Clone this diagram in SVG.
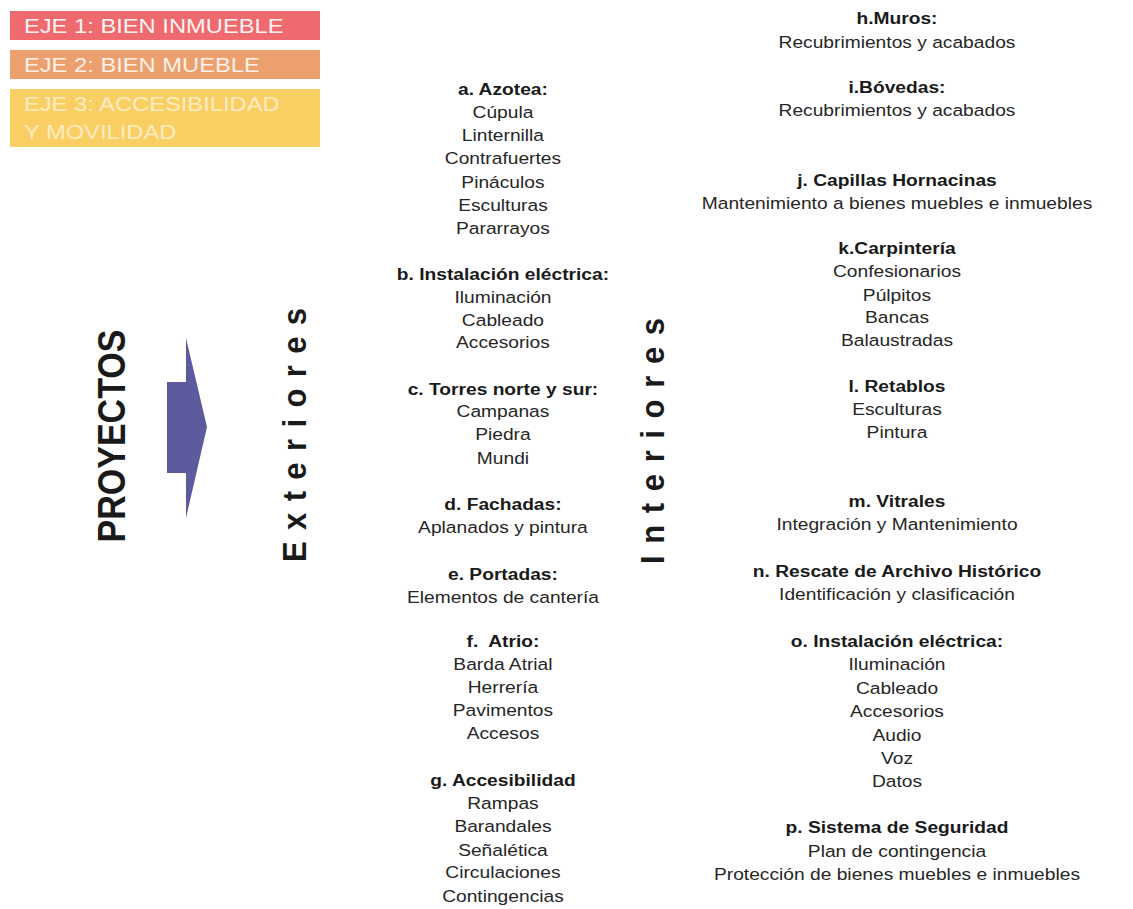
<svg xmlns="http://www.w3.org/2000/svg" width="1133" height="909" viewBox="0 0 1133 909">
<style>
text{font-family:"Liberation Sans",Arial,sans-serif;fill:#262626}
.it{font-size:17px;text-anchor:middle}
.hd{font-size:17px;text-anchor:middle;font-weight:bold;fill:#1a1a1a}
.eje{font-size:21px;fill:#ffffff}
.vt{font-weight:bold;fill:#1a1a1a;text-anchor:middle}
</style>
<rect width="1133" height="909" fill="#ffffff"/>
<g id="legend">
<rect x="10" y="11" width="310" height="29" fill="#ee6a6e"/>
<rect x="10" y="50" width="310" height="29" fill="#eba06e"/>
<rect x="10" y="89" width="310" height="58" fill="#f9cf64"/>
</g>
<g id="connectors">
<polygon points="167,382 186,382 186,338 207,427 186,518 186,473 167,473" fill="#5e5a9e"/>
</g>
<g id="proyectos"><text class="vt" font-size="34" transform="translate(125,436) rotate(-90) scale(1,1.15)">PROYECTOS</text></g>
<g id="exteriores-label"><text class="vt" font-size="31" textLength="254" lengthAdjust="spacing" transform="translate(306,435) rotate(-90) scale(1,1.1)">Exteriores</text></g>
<g id="interiores-label"><text class="vt" font-size="31" textLength="246" lengthAdjust="spacing" transform="translate(664,441) rotate(-90) scale(1,1.1)">Interiores</text></g>
<g transform="scale(1.13,1)">
<g id="ejes">
<text class="eje" x="21.2" y="33" opacity="0.92">EJE 1: BIEN INMUEBLE</text>
<text class="eje" x="21.2" y="72" opacity="0.85">EJE 2: BIEN MUEBLE</text>
<text class="eje" x="21.2" y="111.5" opacity="0.6">EJE 3: ACCESIBILIDAD</text>
<text class="eje" x="21.2" y="139" opacity="0.6">Y MOVILIDAD</text>
</g>
<g id="exteriores">
<g id="a-azotea">
<text class="hd" x="445.1" y="95">a. Azotea:</text>
<text class="it" x="445.1" y="118">Cúpula</text>
<text class="it" x="445.1" y="141">Linternilla</text>
<text class="it" x="445.1" y="164">Contrafuertes</text>
<text class="it" x="445.1" y="188">Pináculos</text>
<text class="it" x="445.1" y="211">Esculturas</text>
<text class="it" x="445.1" y="234">Pararrayos</text>
</g>
<g id="b-instalacion">
<text class="hd" x="445.1" y="280">b. Instalación eléctrica:</text>
<text class="it" x="445.1" y="303">Iluminación</text>
<text class="it" x="445.1" y="326">Cableado</text>
<text class="it" x="445.1" y="348">Accesorios</text>
</g>
<g id="c-torres">
<text class="hd" x="445.1" y="395">c. Torres norte y sur:</text>
<text class="it" x="445.1" y="417">Campanas</text>
<text class="it" x="445.1" y="440">Piedra</text>
<text class="it" x="445.1" y="464">Mundi</text>
</g>
<g id="d-fachadas">
<text class="hd" x="445.1" y="510">d. Fachadas:</text>
<text class="it" x="445.1" y="533">Aplanados y pintura</text>
</g>
<g id="e-portadas">
<text class="hd" x="445.1" y="580">e. Portadas:</text>
<text class="it" x="445.1" y="603">Elementos de cantería</text>
</g>
<g id="f-atrio">
<text class="hd" x="445.1" y="647" xml:space="preserve">f.  Atrio:</text>
<text class="it" x="445.1" y="670">Barda Atrial</text>
<text class="it" x="445.1" y="693">Herrería</text>
<text class="it" x="445.1" y="716">Pavimentos</text>
<text class="it" x="445.1" y="739">Accesos</text>
</g>
<g id="g-accesibilidad">
<text class="hd" x="445.1" y="786">g. Accesibilidad</text>
<text class="it" x="445.1" y="809">Rampas</text>
<text class="it" x="445.1" y="832">Barandales</text>
<text class="it" x="445.1" y="856">Señalética</text>
<text class="it" x="445.1" y="878">Circulaciones</text>
<text class="it" x="445.1" y="902">Contingencias</text>
</g>
</g>
<g id="interiores">
<g id="h-muros">
<text class="hd" x="793.8" y="24">h.Muros:</text>
<text class="it" x="793.8" y="48">Recubrimientos y acabados</text>
</g>
<g id="i-bovedas">
<text class="hd" x="793.8" y="93">i.Bóvedas:</text>
<text class="it" x="793.8" y="116">Recubrimientos y acabados</text>
</g>
<g id="j-capillas">
<text class="hd" x="793.8" y="186">j. Capillas Hornacinas</text>
<text class="it" x="793.8" y="209">Mantenimiento a bienes muebles e inmuebles</text>
</g>
<g id="k-carpinteria">
<text class="hd" x="793.8" y="254">k.Carpintería</text>
<text class="it" x="793.8" y="277">Confesionarios</text>
<text class="it" x="793.8" y="301">Púlpitos</text>
<text class="it" x="793.8" y="323">Bancas</text>
<text class="it" x="793.8" y="346">Balaustradas</text>
</g>
<g id="l-retablos">
<text class="hd" x="793.8" y="392">l. Retablos</text>
<text class="it" x="793.8" y="415">Esculturas</text>
<text class="it" x="793.8" y="438">Pintura</text>
</g>
<g id="m-vitrales">
<text class="hd" x="793.8" y="507">m. Vitrales</text>
<text class="it" x="793.8" y="530">Integración y Mantenimiento</text>
</g>
<g id="n-rescate">
<text class="hd" x="793.8" y="577">n. Rescate de Archivo Histórico</text>
<text class="it" x="793.8" y="600">Identificación y clasificación</text>
</g>
<g id="o-instalacion">
<text class="hd" x="793.8" y="647">o. Instalación eléctrica:</text>
<text class="it" x="793.8" y="670">Iluminación</text>
<text class="it" x="793.8" y="694">Cableado</text>
<text class="it" x="793.8" y="717">Accesorios</text>
<text class="it" x="793.8" y="741">Audio</text>
<text class="it" x="793.8" y="764">Voz</text>
<text class="it" x="793.8" y="787">Datos</text>
</g>
<g id="p-seguridad">
<text class="hd" x="793.8" y="833">p. Sistema de Seguridad</text>
<text class="it" x="793.8" y="857">Plan de contingencia</text>
<text class="it" x="793.8" y="880">Protección de bienes muebles e inmuebles</text>
</g>
</g>
</g>
</svg>
